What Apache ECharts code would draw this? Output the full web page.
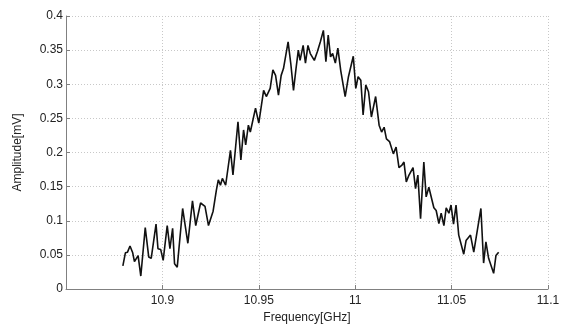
<!DOCTYPE html>
<html>
<head>
<meta charset="utf-8">
<script src="https://cdn.jsdelivr.net/npm/echarts@6/dist/echarts.min.js"></script>
<style>
  html, body { margin: 0; padding: 0; background: #fff; }
  #chart { width: 563px; height: 326px; }
</style>
</head>
<body>
<div id="chart"></div>
<script>
// frequency samples [GHz]
const freq = [
  10.8795, 10.8808, 10.8819, 10.8832, 10.8846, 10.8855, 10.8863, 10.8874, 10.8888, 10.8911,
  10.8929, 10.8942, 10.8967, 10.8977, 10.8991, 10.9004, 10.9025, 10.9039, 10.9053, 10.9063,
  10.9077, 10.9105, 10.9132, 10.9156, 10.9173, 10.9198, 10.9221, 10.9239, 10.9263, 10.9280,
  10.9290, 10.9301, 10.9311, 10.9328, 10.9353, 10.9366, 10.9392, 10.9407, 10.9421, 10.9432,
  10.9446, 10.9456, 10.9483, 10.9500, 10.9525, 10.9539, 10.9559, 10.9573, 10.9587, 10.9602,
  10.9616, 10.9628, 10.9638, 10.9652, 10.9666, 10.9680, 10.9693, 10.9705, 10.9714, 10.9730,
  10.9742, 10.9755, 10.9767, 10.9788, 10.9804, 10.9819, 10.9835, 10.9848, 10.9860, 10.9872,
  10.9883, 10.9897, 10.9910, 10.9925, 10.9948, 10.9965, 10.9990, 11.0003, 11.0015, 11.0029,
  11.0041, 11.0055, 11.0069, 11.0084, 11.0106, 11.0124, 11.0137, 11.0150, 11.0162, 11.0178,
  11.0198, 11.0212, 11.0227, 11.0241, 11.0253, 11.0265, 11.0279, 11.0300, 11.0313, 11.0325,
  11.0339, 11.0356, 11.0368, 11.0382, 11.0408, 11.0420, 11.0434, 11.0446, 11.0460, 11.0472,
  11.0486, 11.0497, 11.0510, 11.0523, 11.0537, 11.0563, 11.0575, 11.0598, 11.0615, 11.0652,
  11.0666, 11.0678, 11.0692, 11.0718, 11.0730, 11.0744
];

// amplitude [mV]
const amplitude = [
  0.034, 0.053, 0.054, 0.063, 0.053, 0.040, 0.041, 0.049, 0.019, 0.090,
  0.047, 0.045, 0.095, 0.059, 0.058, 0.042, 0.093, 0.059, 0.089, 0.037,
  0.032, 0.118, 0.067, 0.129, 0.093, 0.126, 0.121, 0.093, 0.114, 0.145,
  0.160, 0.152, 0.162, 0.152, 0.203, 0.167, 0.245, 0.189, 0.233, 0.211,
  0.240, 0.230, 0.265, 0.243, 0.291, 0.282, 0.294, 0.321, 0.313, 0.284,
  0.313, 0.323, 0.322, 0.362, 0.330, 0.291, 0.323, 0.350, 0.335, 0.357,
  0.331, 0.357, 0.345, 0.335, 0.348, 0.362, 0.379, 0.333, 0.372, 0.340,
  0.345, 0.331, 0.353, 0.320, 0.282, 0.311, 0.341, 0.294, 0.311, 0.306,
  0.255, 0.299, 0.289, 0.252, 0.282, 0.240, 0.230, 0.237, 0.220, 0.216,
  0.198, 0.208, 0.178, 0.181, 0.186, 0.157, 0.167, 0.178, 0.147, 0.167,
  0.103, 0.186, 0.135, 0.149, 0.119, 0.115, 0.096, 0.111, 0.093, 0.119,
  0.111, 0.123, 0.095, 0.123, 0.079, 0.051, 0.071, 0.079, 0.054, 0.118,
  0.038, 0.069, 0.045, 0.023, 0.049, 0.054
];

const xRange = [10.85, 11.1];
const yRange = [0, 0.4];

const chart = echarts.init(document.getElementById("chart"), null, { renderer: "canvas" });
const font = "Liberation Sans, Arial, sans-serif";
const axisGray = "#808080";

chart.setOption({
  animation: false,
  backgroundColor: "#fff",
  grid: { left: 66, right: 15, top: 16, bottom: 37, containLabel: false, outerBoundsMode: "none" },
  xAxis: {
    type: "value",
    min: xRange[0],
    max: xRange[1],
    interval: 0.05,
    name: "Frequency[GHz]",
    nameLocation: "middle",
    nameGap: 21,
    nameTextStyle: { color: "#222", fontSize: 12, fontFamily: font },
    axisLine: { onZero: false, lineStyle: { color: axisGray, width: 1 } },
    axisTick: { inside: true, length: 4, lineStyle: { color: axisGray } },
    axisLabel: {
      color: "#222", fontSize: 12, fontFamily: font, margin: 6,
      formatter: (v) => (Math.abs(v - xRange[0]) < 1e-6 ? "" : String(+v.toFixed(2)))
    },
    splitLine: { show: true, lineStyle: { color: "#c8c8c8", type: [1, 2], width: 1 } }
  },
  yAxis: {
    type: "value",
    min: yRange[0],
    max: yRange[1],
    interval: 0.05,
    name: "Amplitude[mV]",
    nameLocation: "middle",
    nameGap: 42,
    nameTextStyle: { color: "#222", fontSize: 12, fontFamily: font },
    axisLine: { show: true, onZero: false, lineStyle: { color: axisGray, width: 1 } },
    axisTick: { show: true, inside: true, length: 4, lineStyle: { color: axisGray } },
    axisLabel: {
      color: "#222", fontSize: 12, fontFamily: font, margin: 3,
      formatter: (v) => String(+v.toFixed(2))
    },
    splitLine: { show: true, lineStyle: { color: "#c8c8c8", type: [1, 2], width: 1 } }
  },
  series: [{
    type: "line",
    data: freq.map((f, i) => [f, amplitude[i]]),
    showSymbol: false,
    lineStyle: { color: "#111", width: 1.6 },
    emphasis: { disabled: true }
  }]
});
</script>
</body>
</html>
